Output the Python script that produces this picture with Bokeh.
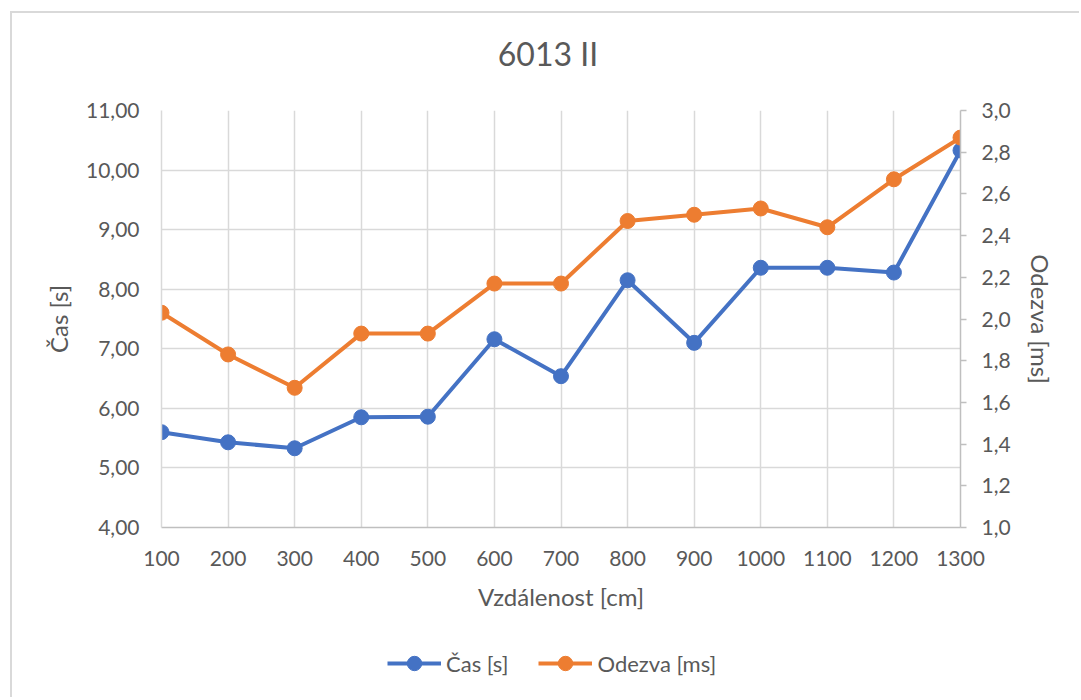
from bokeh.plotting import figure
from bokeh.layouts import column
from bokeh.models import (Range1d, LinearAxis, FixedTicker, CustomJSTickFormatter,
                          Legend, LegendItem, Div)
from bokeh.embed import file_html
from bokeh.resources import INLINE

# ---- data ----
distances = [100, 200, 300, 400, 500, 600, 700, 800, 900, 1000, 1100, 1200, 1300]
cas_s = [5.60, 5.43, 5.33, 5.85, 5.86, 7.16, 6.54, 8.15, 7.10, 8.36, 8.36, 8.28, 10.33]
odezva_ms = [2.03, 1.83, 1.67, 1.93, 1.93, 2.17, 2.17, 2.47, 2.50, 2.53, 2.44, 2.67, 2.87]
left_ticks = [4, 5, 6, 7, 8, 9, 10, 11]
right_ticks = [1.0, 1.2, 1.4, 1.6, 1.8, 2.0, 2.2, 2.4, 2.6, 2.8, 3.0]

title_text = "6013 II"
x_title = "Vzdálenost [cm]"
y_left_title = "Čas [s]"
y_right_title = "Odezva [ms]"

FONT = "Lato"
TXT = "#595959"
GRID = "#d9d9d9"
BLUE = "#4472C4"
ORANGE = "#ED7D31"

W = 1067

# chart title
title_div = Div(text=title_text, width=W, height=70, margin=0,
                styles={"font-family": FONT, "font-size": "32px", "color": TXT,
                        "text-align": "center", "line-height": "32px",
                        "padding-top": "25px", "padding-left": "5px",
                        "box-sizing": "border-box", "background": "white"})

p = figure(width=W, height=542, output_backend="svg", toolbar_location=None,
           x_range=Range1d(distances[0], distances[-1]),
           y_range=Range1d(left_ticks[0], left_ticks[-1]),
           min_border_left=149, min_border_top=27, min_border_right=119,
           min_border_bottom=98)
p.title.visible = False

p.extra_y_ranges = {"r": Range1d(right_ticks[0], right_ticks[-1])}

p.outline_line_color = None
p.background_fill_color = "white"
p.border_fill_color = "white"

# x axis
xa = p.xaxis[0]
xa.ticker = FixedTicker(ticks=distances)
xa.axis_label = x_title
xa.axis_label_text_font = FONT
xa.axis_label_text_font_size = "24px"
xa.axis_label_text_font_style = "normal"
xa.axis_label_text_color = TXT
xa.axis_label_standoff = 13
xa.major_label_text_font = FONT
xa.major_label_text_font_size = "21px"
xa.major_label_text_color = TXT
xa.major_label_standoff = 23
xa.major_tick_out = 0
xa.major_tick_in = 0
xa.minor_tick_out = 0
xa.minor_tick_in = 0
xa.axis_line_color = "#bfbfbf"
xa.axis_line_width = 1.5

# left y axis
ya = p.yaxis[0]
ya.ticker = FixedTicker(ticks=left_ticks)
ya.formatter = CustomJSTickFormatter(code="return tick.toFixed(2).replace('.', ',');")
ya.axis_label = y_left_title
ya.axis_label_text_font = FONT
ya.axis_label_text_font_size = "24px"
ya.axis_label_text_font_style = "normal"
ya.axis_label_text_color = TXT
ya.axis_label_standoff = 10
ya.major_label_text_font = FONT
ya.major_label_text_font_size = "21px"
ya.major_label_text_color = TXT
ya.major_label_standoff = 22
ya.major_tick_out = 0
ya.major_tick_in = 0
ya.minor_tick_out = 0
ya.minor_tick_in = 0
ya.axis_line_color = GRID
ya.axis_line_width = 1.5

# right y axis
ra = LinearAxis(y_range_name="r", ticker=FixedTicker(ticks=right_ticks))
ra.formatter = CustomJSTickFormatter(code="return tick.toFixed(1).replace('.', ',');")
ra.axis_label = y_right_title
ra.axis_label_text_font = FONT
ra.axis_label_text_font_size = "24px"
ra.axis_label_text_font_style = "normal"
ra.axis_label_text_color = TXT
ra.axis_label_standoff = 12
ra.major_label_text_font = FONT
ra.major_label_text_font_size = "21px"
ra.major_label_text_color = TXT
ra.major_label_standoff = 15
ra.major_tick_out = 6
ra.major_tick_in = 0
ra.major_tick_line_color = "#bfbfbf"
ra.major_tick_line_width = 1.5
ra.minor_tick_out = 0
ra.minor_tick_in = 0
ra.axis_line_color = "#bfbfbf"
ra.axis_line_width = 1.5
p.add_layout(ra, "right")

# grids
p.xgrid.ticker = FixedTicker(ticks=distances)
p.xgrid.grid_line_color = GRID
p.xgrid.grid_line_width = 1.5
p.ygrid.grid_line_color = GRID
p.ygrid.grid_line_width = 1.5

# series
p.line(distances, cas_s, line_color=BLUE, line_width=4)
p.scatter(distances, cas_s, size=15, fill_color=BLUE, line_color=BLUE)
p.line(distances, odezva_ms, line_color=ORANGE, line_width=4, y_range_name="r")
p.scatter(distances, odezva_ms, size=15, fill_color=ORANGE, line_color=ORANGE,
          y_range_name="r")

# legend strip below the chart (swatch renderers use the data, which lies
# outside this strip's 0..1 ranges, so only the legend swatches show)
pl = figure(width=W, height=72, output_backend="svg", toolbar_location=None,
            x_range=Range1d(0, 1), y_range=Range1d(0, 1),
            min_border=0, min_border_left=0, min_border_right=0,
            min_border_top=0, min_border_bottom=0)
pl.axis.visible = False
pl.grid.visible = False
pl.outline_line_color = None
pl.border_fill_color = "white"
pl.background_fill_color = "white"
lg1 = pl.line(distances, cas_s, line_color=BLUE, line_width=4)
sg1 = pl.scatter(distances, cas_s, size=15, fill_color=BLUE, line_color=BLUE)
lg2 = pl.line(distances, odezva_ms, line_color=ORANGE, line_width=4)
sg2 = pl.scatter(distances, odezva_ms, size=15, fill_color=ORANGE, line_color=ORANGE)

legend = Legend(items=[LegendItem(label=y_left_title, renderers=[lg1, sg1]),
                       LegendItem(label=y_right_title, renderers=[lg2, sg2])],
                orientation="horizontal", location=(226, 16))
legend.label_text_font = FONT
legend.label_text_font_size = "22px"
legend.label_text_color = TXT
legend.glyph_width = 54
legend.glyph_height = 36
legend.label_standoff = 5
legend.spacing = 30
legend.padding = 6
legend.margin = 0
legend.border_line_color = None
legend.background_fill_alpha = 0
pl.add_layout(legend, "center")

layout = column(title_div, p, pl, spacing=0,
                styles={"margin-left": "10px", "margin-top": "11px",
                        "border-left": "2px solid #d9d9d9",
                        "border-top": "2px solid #d9d9d9"})

open("out.html", "w").write(file_html(layout, INLINE))
